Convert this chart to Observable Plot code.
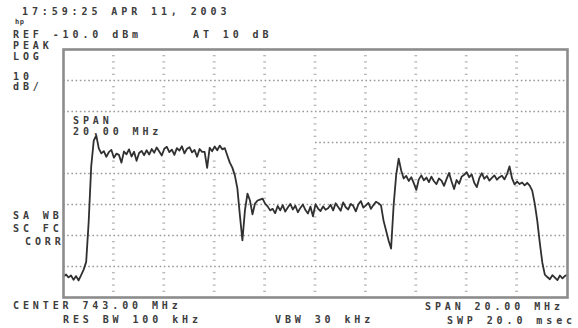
<!DOCTYPE html>
<html>
<head>
<meta charset="utf-8">
<script src="https://cdn.jsdelivr.net/npm/d3@7"></script>
<script src="https://cdn.jsdelivr.net/npm/@observablehq/plot@0.6"></script>
<style>
  html, body { margin: 0; padding: 0; background: #fff; }
  #chart svg { display: block; }
</style>
</head>
<body>
<div id="chart"></div>
<script>
// Sweep settings (MHz) and trace readings (dBm), one reading every 0.1 MHz from 733 to 753
const startFreq = 733;
const stopFreq = 753;
const sweepStep = 0.1;
const refLevel = -10;
const bottomLevel = -90;
const traceLevel = [
  -83.2, -82.6, -83.5, -82.9, -84.3, -83.1, -84.5, -82.8,
  -81.0, -78.5, -65.5, -47.7, -39.4, -37.7, -41.9,
  -43.5, -42.8, -44.6, -43.1, -42.4, -44.9, -43.6, -44.0, -46.5, -42.9,
  -43.8, -42.2, -44.5, -43.0, -45.9, -43.4, -42.7, -44.1, -42.5, -43.9,
  -42.1, -43.3, -41.6, -42.9, -44.2, -42.0, -41.4, -43.1, -42.3, -44.0,
  -41.8, -42.6, -41.2, -43.5, -42.0, -41.5, -43.2, -42.4, -44.6, -42.1,
  -43.0, -43.0, -48.2, -41.7, -42.8, -41.3, -42.5, -41.0, -42.2,
  -41.8, -44.2, -46.5, -48.1, -50.6, -54.8, -63.5, -71.6, -61.9, -56.5,
  -58.7, -63.2, -59.7, -58.7, -58.4, -58.1, -59.7, -60.6, -61.9,
  -61.4, -62.8, -60.5, -61.9, -60.2, -62.3, -61.0, -59.8, -61.6, -60.4,
  -62.5, -61.1, -60.0, -61.8, -62.9, -60.7, -63.8, -59.9, -61.3, -62.1,
  -60.6, -61.7, -61.2, -60.1, -61.9, -59.6, -60.8, -62.0, -59.3, -60.9,
  -61.6, -59.8, -60.5, -62.2, -60.0, -58.9, -61.0, -60.3, -59.5, -61.4,
  -60.2, -59.1, -59.6,
  -60.3, -65.2, -68.4, -71.6, -74.2, -60.3, -50.6, -45.2, -49.0, -51.6,
  -50.8, -52.4, -51.2, -53.1, -55.3, -51.9, -50.6, -52.2, -51.3, -52.8,
  -51.0, -52.5, -53.4, -51.6, -52.3, -54.0, -51.8, -49.8, -52.6, -55.0,
  -52.1, -53.3, -51.0, -50.4, -49.6, -51.2, -50.3, -53.0, -54.4, -51.5,
  -49.9, -51.7, -50.8, -52.3, -51.4, -50.6, -52.0, -51.2, -50.7, -51.9,
  -50.2, -47.7, -51.6, -53.5, -52.6, -53.4, -52.9, -53.8, -53.0, -53.9,
  -55.5,
  -59.7, -65.2, -72.3, -78.7, -82.6,
  -83.4, -84.1, -82.8, -83.6, -84.4, -82.9, -83.8, -83.0, -82.7
];
// Graticule
const gridFreqs = [735, 737, 739, 741, 743, 745, 747, 749, 751];
const gridLevels = [-20, -30, -50, -60, -70, -80];
const partialLevel = -40;          // drawn only right of the centre (annotation blanking)
const minorLevels = [-12, -14, -16, -18, -22, -24, -26, -28, -32, -34, -36, -38,
  -42, -44, -46, -48, -52, -54, -56, -58, -62, -64, -66, -68, -72, -74, -76, -78,
  -82, -84, -86, -88];
// Annotation texts
const topTexts = ["17:59:25 APR 11, 2003", "REF -10.0 dBm", "AT 10 dB"];
const leftTexts = ["PEAK", "LOG", "10", "dB/", "SA WB", "SC FC", "CORR"];
const spanLabel = ["SPAN", "20.00 MHz"];
const bottomTexts = ["CENTER 743.00 MHz", "RES BW 100 kHz", "VBW 30 kHz", "SPAN 20.00 MHz", "SWP 20.0 msec"];

const trace = traceLevel.map((v, i) => ({f: startFreq + i * sweepStep, v}));
const minor = [];
for (const x of gridFreqs) for (const y of minorLevels) {
  if (x < 743 && y <= -30 && y >= -44) continue;
  minor.push({x, y});
}

const chart = Plot.plot({
  width: 578,
  height: 328,
  marginLeft: 63,
  marginRight: 11,
  marginTop: 49,
  marginBottom: 31,
  x: {domain: [startFreq, stopFreq], axis: null},
  y: {domain: [bottomLevel, refLevel], axis: null},
  style: {background: "#fff"},
  marks: [
    Plot.ruleY(gridLevels, {stroke: "#9a9a9a", strokeWidth: 1.5, strokeDasharray: "1.6,2.6"}),
    Plot.ruleY([{y: partialLevel, a: 743, b: stopFreq}], {y: "y", x1: "a", x2: "b", stroke: "#9a9a9a", strokeWidth: 1.5, strokeDasharray: "1.6,2.6"}),
    Plot.ruleY(minor, {y: "y", x1: d => d.x - 0.055, x2: d => d.x + 0.055, stroke: "#b0b0b0", strokeWidth: 1.2}),
    Plot.line(trace, {x: "f", y: "v", stroke: "#303030", strokeWidth: 1.8, strokeLinejoin: "round"}),
    Plot.frame({stroke: "#8c8c8c", strokeWidth: 2.6})
  ]
});
document.getElementById("chart").appendChild(chart);

const svg = d3.select(chart);
function label(t, x, y, size) {
  svg.append("text")
    .attr("x", x).attr("y", y)
    .attr("text-anchor", "start")
    .attr("font-family", "'DejaVu Sans Mono', monospace")
    .attr("font-weight", "bold")
    .attr("font-size", size || 10)
    .attr("letter-spacing", size ? 0.5 : 3.9)
    .attr("fill", "#3c3c3c")
    .text(t);
}
label(topTexts[0], 22, 15);
label("hp", 15, 24, 7);
label(topTexts[1], 13, 38);
label(topTexts[2], 193, 38);
label(leftTexts[0], 13, 49);
label(leftTexts[1], 13, 60);
label(leftTexts[2], 13, 80);
label(leftTexts[3], 13, 90);
label(leftTexts[4], 13, 219);
label(leftTexts[5], 13, 232);
label(leftTexts[6], 25, 245);
label(spanLabel[0], 73, 124);
label(spanLabel[1], 73, 135);
label(bottomTexts[0], 13, 309);
label(bottomTexts[1], 63, 323);
label(bottomTexts[2], 275, 323);
label(bottomTexts[3], 425, 310);
label(bottomTexts[4], 447, 324);
</script>
</body>
</html>
